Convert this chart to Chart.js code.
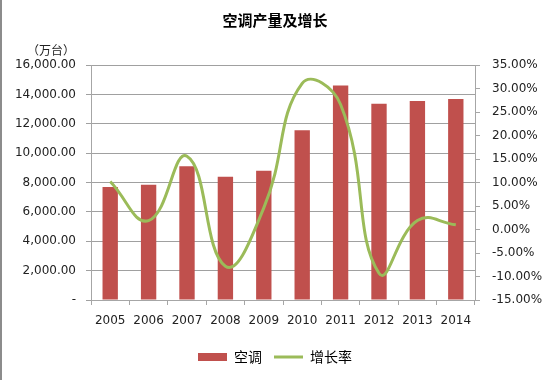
<!DOCTYPE html>
<html>
<head>
<meta charset="utf-8">
<script src="https://cdn.jsdelivr.net/npm/chart.js@4/dist/chart.umd.min.js"></script>
<style>
html, body { margin: 0; padding: 0; background: #fff; }
#wrap { width: 550px; height: 380px; }
</style>
</head>
<body>
<div id="wrap"><canvas id="chart" width="550" height="380"></canvas></div>
<script>
// 数据
const years = ['2005', '2006', '2007', '2008', '2009', '2010', '2011', '2012', '2013', '2014'];
const output = [7700, 7850, 9100, 8400, 8800, 11550, 14600, 13370, 13550, 13690];   // 万台
const growth = [10.2, 1.9, 15.6, -7.8, 4.6, 31.1, 26.6, -9.3, 1.9, 1.0];            // %
const leftTicks = [0, 2000, 4000, 6000, 8000, 10000, 12000, 14000, 16000];
const rightTicks = [-15, -10, -5, 0, 5, 10, 15, 20, 25, 30, 35];

const cjk = "'Noto Sans CJK SC', sans-serif";
const num = "'DejaVu Sans', sans-serif";
const bottomPad = 6;

// 左边框和单位标签
const extras = {
    id: 'extras',
    afterDraw(chart) {
        const ctx = chart.ctx;
        ctx.save();
        ctx.fillStyle = '#8c8c8c';
        ctx.fillRect(0, 0, 2, 380);
        ctx.fillStyle = '#222';
        ctx.font = "12px " + cjk;
        ctx.textAlign = 'center';
        ctx.textBaseline = 'middle';
        ctx.fillText('（万台）', 51, 50);
        ctx.restore();
    }
};

new Chart(document.getElementById('chart'), {
    data: {
        labels: years,
        datasets: [{
            type: 'bar',
            label: '空调',
            data: output,
            yAxisID: 'y',
            backgroundColor: '#C0504D',
            borderWidth: 0,
            barPercentage: 0.4,
            categoryPercentage: 1,
            pointStyle: 'rect',
            order: 1
        }, {
            type: 'line',
            label: '增长率',
            data: growth,
            yAxisID: 'y1',
            borderColor: '#9BBB59',
            backgroundColor: '#9BBB59',
            borderWidth: 3,
            pointRadius: 0,
            tension: 0.45,
            pointStyle: 'line',
            order: 0
        }]
    },
    options: {
        responsive: false,
        animation: false,
        devicePixelRatio: 1,
        layout: { padding: { bottom: bottomPad } },
        plugins: {
            title: {
                display: true,
                text: '空调产量及增长',
                color: '#000',
                font: { family: cjk, size: 15, weight: 'bold' },
                padding: { top: 11, bottom: 36 }
            },
            legend: {
                position: 'bottom',
                labels: {
                    usePointStyle: true,
                    pointStyleWidth: 29,
                    boxHeight: 8,
                    color: '#000',
                    font: { family: cjk, size: 14 },
                    padding: 12,
                    sort: (a, b) => a.datasetIndex - b.datasetIndex
                }
            },
            tooltip: { enabled: false }
        },
        scales: {
            x: {
                grid: { display: true, drawOnChartArea: false, offset: true, tickLength: 5, color: '#a6a6a6' },
                border: { color: '#a6a6a6' },
                ticks: { color: '#222', font: { family: num, size: 12 }, padding: 9 },
                afterFit(s) { s.height = 380 - 300 - bottomPad - s.chart.legend.height; }
            },
            y: {
                position: 'left',
                min: 0,
                max: 16000,
                afterBuildTicks(s) { s.ticks = leftTicks.map(v => ({ value: v })); },
                grid: { color: '#a0a0a0', tickLength: 5 },
                border: { color: '#a6a6a6' },
                ticks: {
                    color: '#222',
                    font: { family: num, size: 12 },
                    padding: 10,
                    callback: v => v === 0 ? '-' : v.toLocaleString('en-US', { minimumFractionDigits: 2, maximumFractionDigits: 2 })
                },
                afterFit(s) { s.width = 91; }
            },
            y1: {
                position: 'right',
                min: -15,
                max: 35,
                afterBuildTicks(s) { s.ticks = rightTicks.map(v => ({ value: v })); },
                grid: { drawOnChartArea: false, color: '#a6a6a6', tickLength: 5 },
                border: { color: '#a6a6a6' },
                ticks: {
                    color: '#222',
                    font: { family: num, size: 12 },
                    padding: 12,
                    callback: v => v.toFixed(2) + '%'
                },
                afterFit(s) { s.width = 75; }
            }
        }
    },
    plugins: [extras]
});
</script>
</body>
</html>
